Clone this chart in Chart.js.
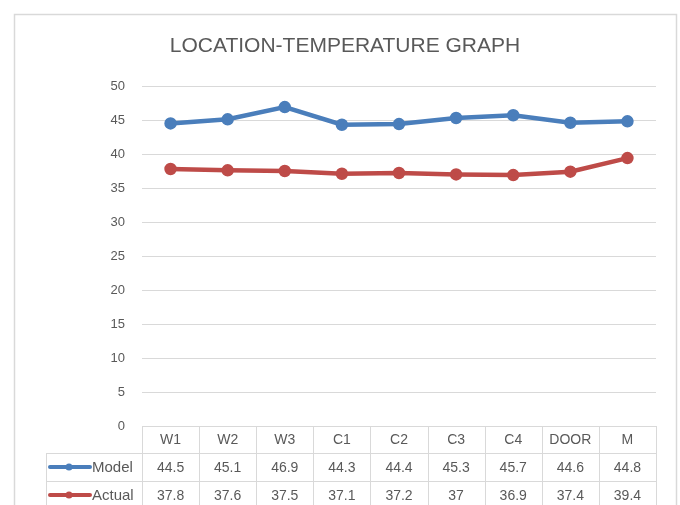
<!DOCTYPE html>
<html>
<head>
<meta charset="utf-8">
<script src="https://cdn.jsdelivr.net/npm/chart.js@4"></script>
<style>
  html, body { margin: 0; padding: 0; background: #fff; }
  #wrap { width: 680px; height: 505px; position: relative; }
</style>
</head>
<body>
<div id="wrap"><canvas id="c" width="680" height="505"></canvas></div>
<script>
const chartTitle = 'LOCATION-TEMPERATURE GRAPH';
const categories = ['W1', 'W2', 'W3', 'C1', 'C2', 'C3', 'C4', 'DOOR', 'M'];
const modelValues = [44.5, 45.1, 46.9, 44.3, 44.4, 45.3, 45.7, 44.6, 44.8];
const actualValues = [37.8, 37.6, 37.5, 37.1, 37.2, 37, 36.9, 37.4, 39.4];
const seriesNames = ['Model', 'Actual'];
const yTicks = [0, 5, 10, 15, 20, 25, 30, 35, 40, 45, 50];

const BLUE = '#4A7EBB';
const RED = '#BE4B48';
const GRID = '#D9D9D9';
const TEXT = '#595959';
const FONT = "'Liberation Sans', Arial, sans-serif";
const NARROW = "'Liberation Sans Narrow', 'Liberation Sans', Arial, sans-serif";

const framePlugin = {
  id: 'frame',
  beforeDraw(chart) {
    const ctx = chart.ctx;
    ctx.save();
    ctx.fillStyle = '#fff';
    ctx.fillRect(0, 0, chart.width, chart.height);
    ctx.strokeStyle = '#D9D9D9';
    ctx.lineWidth = 1.5;
    ctx.strokeRect(14.5, 14.5, 662, 520);
    ctx.fillStyle = TEXT;
    ctx.font = '21px ' + FONT;
    ctx.textAlign = 'center';
    ctx.textBaseline = 'middle';
    ctx.fillText(chartTitle, 345, 46);
    ctx.restore();
  },
  afterDraw(chart) {
    const ctx = chart.ctx;
    const x = chart.scales.x;
    const area = chart.chartArea;
    const n = categories.length;
    const colW = (area.right - area.left) / n;
    const top = area.bottom;
    const rows = [top, top + 27, top + 55, top + 83];
    const legendLeft = 46;
    ctx.save();
    ctx.strokeStyle = GRID;
    ctx.lineWidth = 1;
    ctx.beginPath();
    ctx.moveTo(area.left, rows[0] + 0.5); ctx.lineTo(area.right, rows[0] + 0.5);
    for (let r = 1; r < 4; r++) {
      ctx.moveTo(legendLeft, rows[r] + 0.5); ctx.lineTo(area.right, rows[r] + 0.5);
    }
    for (let i = 0; i <= n; i++) {
      const xx = Math.round(area.left + i * colW) + 0.5;
      ctx.moveTo(xx, rows[0]); ctx.lineTo(xx, rows[3]);
    }
    ctx.moveTo(legendLeft + 0.5, rows[1]); ctx.lineTo(legendLeft + 0.5, rows[3]);
    ctx.stroke();

    ctx.fillStyle = TEXT;
    ctx.textAlign = 'center';
    ctx.textBaseline = 'middle';
    ctx.font = '14px ' + NARROW;
    const series = [modelValues, actualValues];
    categories.forEach((c, i) => {
      const cx = x.getPixelForValue(i);
      ctx.fillText(c, cx, (rows[0] + rows[1]) / 2 + 1);
      ctx.fillText(String(series[0][i]), cx, (rows[1] + rows[2]) / 2 + 1);
      ctx.fillText(String(series[1][i]), cx, (rows[2] + rows[3]) / 2 + 1);
    });
    const colors = [BLUE, RED];
    for (let s = 0; s < 2; s++) {
      const cy = (rows[s + 1] + rows[s + 2]) / 2;
      ctx.strokeStyle = colors[s];
      ctx.lineWidth = 4;
      ctx.lineCap = 'round';
      ctx.beginPath(); ctx.moveTo(50, cy); ctx.lineTo(90, cy); ctx.stroke();
      ctx.fillStyle = colors[s];
      ctx.beginPath(); ctx.arc(69, cy, 3.5, 0, Math.PI * 2); ctx.fill();
      ctx.fillStyle = TEXT;
      ctx.textAlign = 'left';
      ctx.font = '15px ' + NARROW;
      ctx.fillText(seriesNames[s], 92, cy + 1);
    }
    ctx.restore();
  }
};

new Chart(document.getElementById('c'), {
  type: 'line',
  data: {
    labels: categories,
    datasets: [
      {
        label: seriesNames[0], data: modelValues,
        borderColor: BLUE, backgroundColor: BLUE,
        borderWidth: 4.5, pointRadius: 4, pointHoverRadius: 4,
        pointBackgroundColor: BLUE, pointBorderColor: BLUE, tension: 0
      },
      {
        label: seriesNames[1], data: actualValues,
        borderColor: RED, backgroundColor: RED,
        borderWidth: 4.5, pointRadius: 4, pointHoverRadius: 4,
        pointBackgroundColor: RED, pointBorderColor: RED, tension: 0
      }
    ]
  },
  options: {
    responsive: false,
    animation: false,
    devicePixelRatio: 1,
    layout: { padding: { left: 14, right: 24, top: 86, bottom: 79 } },
    plugins: {
      legend: { display: false },
      title: { display: false },
      tooltip: { enabled: false }
    },
    scales: {
      x: {
        type: 'category',
        offset: true,
        display: false
      },
      y: {
        min: 0, max: 50,
        afterFit(scale) { scale.width = 128; },
        afterBuildTicks(scale) { scale.ticks = yTicks.map(v => ({ value: v })); },
        border: { display: false },
        grid: { color: GRID, lineWidth: 1, drawTicks: false },
        ticks: { color: TEXT, font: { family: FONT, size: 13 }, padding: 17 }
      }
    }
  },
  plugins: [framePlugin]
});
</script>
</body>
</html>
